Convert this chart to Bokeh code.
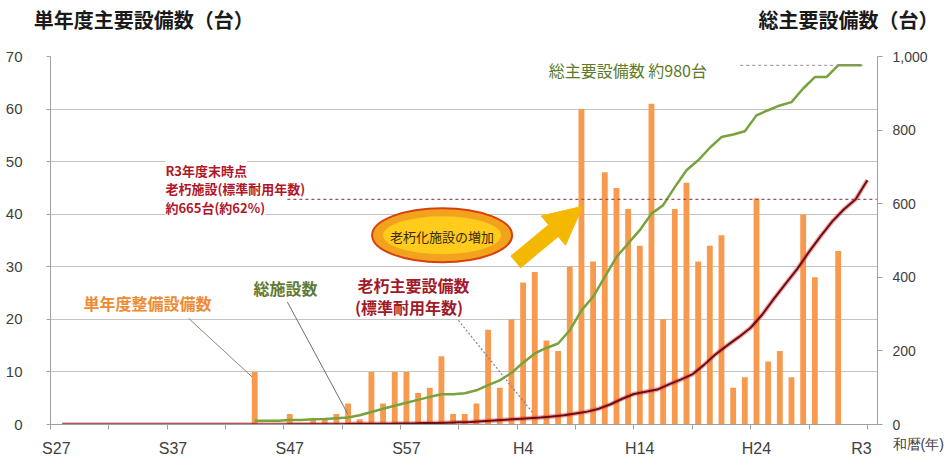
from bokeh.plotting import figure
from bokeh.models import (Range1d, LinearAxis, FixedTicker,
                          Label, Arrow, NormalHead)
from bokeh.embed import file_html
from bokeh.resources import INLINE

# ---------------- data ----------------
years = list(range(1952, 2022))  # S27 .. R3

# 単年度整備設備数 (left axis)
bar_values = [0, 0, 0, 0, 0, 0, 0, 0, 0, 0,
              0, 0, 0, 0, 0, 0, 0, 10, 0, 0,
              2, 0, 1, 1, 2, 4, 1, 10, 4, 10,
              10, 6, 7, 13, 2, 2, 4, 18, 7, 20,
              27, 29, 16, 14, 30, 60, 31, 48, 45, 41,
              34, 61, 20, 41, 46, 31, 34, 36, 7, 9,
              43, 12, 14, 9, 40, 28, 0, 33, 0, 0]

# 総主要設備数 (right axis), from S44
green_years = list(range(1969, 2022))
green_values = [10, 10, 10, 12, 12, 14, 15, 17, 19, 25,
                34, 43, 51, 59, 67, 75, 82, 82, 85, 93,
                107, 120, 140, 168, 193, 208, 220, 256, 310, 347,
                401, 455, 492, 528, 573, 596, 645, 691, 718, 752,
                781, 788, 797, 840, 854, 867, 876, 913, 944, 944,
                976, 976, 976]

# 老朽主要設備数(標準耐用年数) (right axis), value at fiscal-year end
red_values = [0, 0, 0, 0, 0, 0, 0, 0, 0, 0,
              0, 0, 0, 0, 0, 0, 0, 0, 0, 0,
              1, 1, 1, 1, 1, 2, 2, 2, 2, 3,
              3, 4, 4, 5, 6, 7, 9, 11, 13, 15,
              17, 19, 22, 25, 30, 35, 43, 55, 70, 83,
              89, 95, 109, 122, 136, 162, 191, 215, 238, 263,
              299, 342, 383, 423, 469, 512, 552, 585, 612, 664]
red_x = [y + 0.5 for y in years]

era_years = [1952, 1962, 1972, 1982, 1992, 2002, 2012, 2021]
era_labels = ["S27", "S37", "S47", "S57", "H4", "H14", "H24", "R3"]
left_ticks = [0, 10, 20, 30, 40, 50, 60, 70]
right_ticks = [0, 200, 400, 600, 800, 1000]
right_tick_labels = ["\n0\n和暦(年)", "200", "400", "600", "800", "1,000"]
aged_dash_value = 612

title_left = "単年度主要設備数（台）"
title_right = "総主要設備数（台）"

JP = "Noto Sans CJK JP"
LAT = "Liberation Sans"

# ---------------- figure ----------------
p = figure(frame_width=827, frame_height=368,
           x_range=Range1d(1951.5, 2022.37), y_range=Range1d(0, 70),
           output_backend="svg", toolbar_location=None,
           min_border_left=50, min_border_right=69,
           min_border_top=56, min_border_bottom=36)
p.extra_y_ranges = {"right": Range1d(0, 1000)}
p.outline_line_color = None
p.background_fill_color = "white"
p.border_fill_color = "white"

p.xgrid.visible = False
p.ygrid.ticker = FixedTicker(ticks=left_ticks)
p.ygrid.grid_line_color = "#C4C4C4"
p.ygrid.grid_line_width = 1

# x axis
xa = p.xaxis[0]
xa.ticker = FixedTicker(ticks=era_years,
                        minor_ticks=[1951.5 + 5 * k for k in range(15)])
xa.major_label_overrides = {y: t for y, t in zip(era_years, era_labels)}
xa.major_tick_out = 0
xa.major_tick_in = 0
xa.minor_tick_out = 5
xa.minor_tick_in = 0
xa.minor_tick_line_color = "#A0A0A0"
xa.axis_line_color = "#A0A0A0"
xa.major_label_text_font = LAT
xa.major_label_text_font_size = "16px"
xa.major_label_text_color = "#404040"
xa.major_label_standoff = 10

# titles, drawn as labels of an axis above the frame
ta = LinearAxis(ticker=FixedTicker(ticks=[1959.5, 2019.88]),
                major_label_overrides={1959.5: title_left, 2019.88: title_right})
ta.axis_line_color = None
ta.major_tick_line_color = None
ta.minor_tick_line_color = None
ta.major_label_text_font = JP
ta.major_label_text_font_size = "20px"
ta.major_label_text_font_style = "bold"
ta.major_label_text_color = "#1A1A1A"
ta.major_label_standoff = 17
p.add_layout(ta, "above")

# left axis
ya = p.yaxis[0]
ya.ticker = FixedTicker(ticks=left_ticks)
ya.axis_line_color = "#A0A0A0"
ya.major_tick_line_color = "#A0A0A0"
ya.major_tick_out = 4
ya.major_tick_in = 0
ya.minor_tick_line_color = None
ya.major_label_text_font = LAT
ya.major_label_text_font_size = "15px"
ya.major_label_text_color = "#404040"
ya.major_label_standoff = 24

# right axis (the era-axis caption 和暦(年) rides under its "0" label)
ra = LinearAxis(y_range_name="right", ticker=FixedTicker(ticks=right_ticks),
                major_label_overrides={t: s for t, s in zip(right_ticks, right_tick_labels)})
ra.axis_line_color = "#A0A0A0"
ra.major_tick_line_color = "#A0A0A0"
ra.major_tick_out = 5
ra.major_tick_in = 0
ra.minor_tick_line_color = None
ra.major_label_text_font = LAT
ra.major_label_text_font_size = "14px"
ra.major_label_text_color = "#404040"
ra.major_label_standoff = 10
p.add_layout(ra, "right")

# ---------------- marks ----------------
p.vbar(x=years, top=bar_values, width=0.5, fill_color="#F79A4E", line_color=None)

p.line(green_years, green_values, y_range_name="right",
       line_color="#78A23C", line_width=2.5)

p.line(red_x, red_values, y_range_name="right",
       line_color="#E03A3A", line_width=4.5, line_alpha=0.45)
p.line(red_x, red_values, y_range_name="right",
       line_color="#6B0D12", line_width=2)

# dashed reference lines
p.line([2010.6, 2021.1], [green_values[-1]] * 2, y_range_name="right",
       line_color="#9A8A9A", line_dash="3 3", line_width=1)
p.line([1971.8, 2022.3], [aged_dash_value] * 2, y_range_name="right",
       line_color="#9B5060", line_dash="3 3", line_width=1.2)

# leader lines
p.segment(x0=[1963.33], y0=[20.2], x1=[1968.8], y1=[9.0],
          line_color="#8C8676", line_width=1)
p.segment(x0=[1971.8], y0=[23.3], x1=[1976.95], y1=[2.1],
          line_color="#6E6E6E", line_width=1)
p.segment(x0=[1986.46], y0=[19.8], x1=[1992.8], y1=[2.3],
          line_color="#8A7E9E", line_width=1.2, line_dash="2 2")

# ellipse "老朽化施設の増加"
p.ellipse(x=[1985.06], y=[36.0], width=[140], height=[54],
          width_units="screen", height_units="screen",
          fill_color="#F3A21E", line_color="#D8400F", line_width=2)
p.ellipse(x=[1985.06], y=[36.0], width=[118], height=[38],
          width_units="screen", height_units="screen",
          fill_color="#FFCB1C", line_color=None)

# arrow
p.add_layout(Arrow(x_start=1991.35, y_start=30.9, x_end=1997.1, y_end=41.5,
                   line_width=16, line_color="#F5B800",
                   end=NormalHead(size=38, fill_color="#F5B800",
                                  line_color="#F5B800")))

# ---------------- texts ----------------
def lab(x, y, text, size, color, align="left", style="normal", bg=None, font=JP):
    kw = {}
    if bg:
        kw["background_fill_color"] = bg
    p.add_layout(Label(x=x, y=y, text=text, text_font=font,
                       text_font_size=size, text_color=color,
                       text_align=align, text_baseline="middle",
                       text_font_style=style, **kw))

lab(1994.2, 67.4, "総主要設備数 約980台", "16px", "#5B7B2A")

lab(1961.35, 48.3, "R3年度末時点", "13px", "#B0182A", style="bold", bg="white")
lab(1961.35, 44.9, "老朽施設(標準耐用年数)", "13px", "#B0182A", style="bold", bg="white")
lab(1961.35, 41.3, "約665台(約62%)", "13px", "#B0182A", style="bold", bg="white")

lab(1985.06, 35.7, "老朽化施設の増加", "13px", "#3A2A10", align="center")

lab(1954.33, 23.1, "単年度整備設備数", "16px", "#EE8A32", style="bold")
lab(1968.9, 25.9, "総施設数", "16px", "#5E7A34", style="bold")
lab(1977.8, 26.5, "老朽主要設備数", "16px", "#A01A28", style="bold")
lab(1977.6, 22.4, "(標準耐用年数)", "16px", "#A01A28", style="bold")

open("out.html", "w").write(file_html(p, INLINE))
